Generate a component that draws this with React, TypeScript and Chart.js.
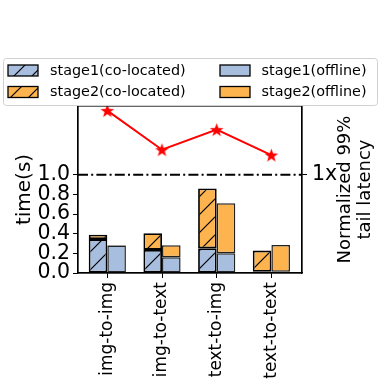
import React, { useEffect, useRef } from "react";
import { Chart, registerables } from "chart.js";
Chart.register(...registerables);

const categories = ["img-to-img", "img-to-text", "text-to-img", "text-to-text"];
const stage1Colocated = [0.345, 0.235, 0.252, 0.012];
const stage2Colocated = [0.045, 0.17, 0.608, 0.216];
const stage1Offline = [0.28, 0.16, 0.2, 0.012];
const stage2Offline = [0.006, 0.123, 0.51, 0.273];
const tailLatency = [1.653, 1.255, 1.459, 1.2];
const leftTicks = [0, 0.2, 0.4, 0.6, 0.8, 1.0];
const rightTicks = [1];
const legendLabels = ["stage1(co-located)", "stage2(co-located)", "stage1(offline)", "stage2(offline)"];

const BLUE = "#a7bede";
const ORANGE = "#fdb44f";
const FONT = "DejaVu Sans";

function hatch(color: string) {
  const s = 18;
  const c = document.createElement("canvas");
  c.width = s;
  c.height = s;
  const g = c.getContext("2d")!;
  g.fillStyle = color;
  g.fillRect(0, 0, s, s);
  g.strokeStyle = "#000";
  g.lineWidth = 1.2;
  g.beginPath();
  g.moveTo(-2, s + 2);
  g.lineTo(s + 2, -2);
  g.moveTo(-2, 2);
  g.lineTo(2, -2);
  g.moveTo(s - 2, s + 2);
  g.lineTo(s + 2, s - 2);
  g.stroke();
  return g.createPattern(c, "repeat")!;
}

function starImage() {
  const s = 15;
  const c = document.createElement("canvas");
  c.width = s;
  c.height = s;
  const g = c.getContext("2d")!;
  const cx = s / 2, cy = s / 2 + 0.6, R = 7.2, r = 2.9;
  g.beginPath();
  for (let i = 0; i < 10; i++) {
    const ang = -Math.PI / 2 + (i * Math.PI) / 5;
    const rad = i % 2 === 0 ? R : r;
    const x = cx + rad * Math.cos(ang);
    const y = cy + rad * Math.sin(ang);
    if (i === 0) g.moveTo(x, y);
    else g.lineTo(x, y);
  }
  g.closePath();
  g.fillStyle = "#ff0000";
  g.fill();
  return c;
}

const toXY = (arr: number[]) => arr.map((v, i) => ({ x: i, y: v }));

export default function App() {
  const ref = useRef<HTMLCanvasElement>(null);
  useEffect(() => {
    const canvas = ref.current!;
    const fills = [hatch(BLUE), hatch(ORANGE), BLUE, ORANGE];
    const overlay = {
      id: "overlay",
      afterDatasetsDraw(chart: any) {
        const ctx = chart.ctx;
        const a = chart.chartArea;
        const y1 = chart.scales.y.getPixelForValue(1);
        ctx.save();
        ctx.strokeStyle = "#000";
        ctx.lineWidth = 2;
        ctx.setLineDash([10, 3.2, 2, 3.2]);
        ctx.beginPath();
        ctx.moveTo(a.left, y1);
        ctx.lineTo(a.right, y1);
        ctx.stroke();
        ctx.restore();
      },
      afterDraw(chart: any) {
        const ctx = chart.ctx;
        const a = chart.chartArea;
        ctx.save();
        ctx.strokeStyle = "#000";
        ctx.lineWidth = 1.2;
        ctx.strokeRect(a.left, a.top, a.right - a.left, a.bottom - a.top);
        const cy = (a.top + a.bottom) / 2;
        ctx.fillStyle = "#000";
        ctx.textAlign = "center";
        ctx.textBaseline = "middle";
        // left title
        ctx.save();
        ctx.translate(25, cy);
        ctx.rotate(-Math.PI / 2);
        ctx.font = `20px "${FONT}"`;
        ctx.fillText("time(s)", 0, 0);
        ctx.restore();
        // right title
        ctx.save();
        ctx.translate(355, cy);
        ctx.rotate(-Math.PI / 2);
        ctx.font = `18px "${FONT}"`;
        ctx.fillText("Normalized 99%", 0, -10);
        ctx.fillText("tail latency", 0, 10);
        ctx.restore();
        // legend
        const bx = 3, by = 58, bw = 374, bh = 47;
        ctx.fillStyle = "rgba(255,255,255,0.85)";
        ctx.strokeStyle = "#d0d0d0";
        ctx.lineWidth = 1;
        ctx.beginPath();
        (ctx as any).roundRect(bx + 0.5, by + 0.5, bw, bh, 3);
        ctx.fill();
        ctx.stroke();
        const items = [
          { x: 8, y: 70.5, tx: 50, fill: fills[0], label: legendLabels[0] },
          { x: 8, y: 92, tx: 50, fill: fills[1], label: legendLabels[1] },
          { x: 220, y: 70.5, tx: 261.5, fill: fills[2], label: legendLabels[2] },
          { x: 220, y: 92, tx: 261.5, fill: fills[3], label: legendLabels[3] },
        ];
        ctx.font = `14.4px "${FONT}"`;
        ctx.textAlign = "left";
        for (const it of items) {
          ctx.fillStyle = it.fill as any;
          ctx.fillRect(it.x, it.y - 5.5, 30, 11);
          ctx.strokeStyle = "#000";
          ctx.lineWidth = 1.3;
          ctx.strokeRect(it.x, it.y - 5.5, 30, 11);
          ctx.fillStyle = "#000";
          ctx.fillText(it.label, it.tx, it.y + 0.5);
        }
        ctx.restore();
      },
    };

    const barCommon = {
      type: "bar" as const,
      borderSkipped: false,
      barPercentage: 1,
      categoryPercentage: 0.68,
      yAxisID: "y",
      order: 2,
    };

    const chart = new Chart(canvas, {
      type: "bar",
      data: {
        datasets: [
          { ...barCommon, label: legendLabels[0], data: toXY(stage1Colocated), stack: "co", backgroundColor: fills[0], borderColor: "#000", borderWidth: 1.8 },
          { ...barCommon, label: legendLabels[1], data: toXY(stage2Colocated), stack: "co", backgroundColor: fills[1], borderColor: "#000", borderWidth: 1.8 },
          { ...barCommon, label: legendLabels[2], data: toXY(stage1Offline), stack: "off", backgroundColor: fills[2], borderColor: "#222", borderWidth: 1.5 },
          { ...barCommon, label: legendLabels[3], data: toXY(stage2Offline), stack: "off", backgroundColor: fills[3], borderColor: "#222", borderWidth: 1.5 },
          {
            type: "line",
            label: "tail",
            data: toXY(tailLatency),
            yAxisID: "y2",
            borderColor: "#ff0000",
            borderWidth: 2,
            pointStyle: starImage() as any,
            pointRadius: 7,
            order: 0,
          } as any,
        ],
      } as any,
      options: {
        responsive: false,
        animation: false,
        devicePixelRatio: 1,
        layout: { padding: { top: 106, left: 0, right: 0, bottom: 0 } },
        plugins: { legend: { display: false }, tooltip: { enabled: false } },
        scales: {
          x: {
            type: "linear",
            min: -0.536,
            max: 3.56,
            offset: false,
            afterBuildTicks: (s: any) => {
              s.ticks = categories.map((_, i) => ({ value: i }));
            },
            afterFit: (s: any) => {
              s.height = 117;
            },
            ticks: {
              callback: (v: any) => categories[Math.round(Number(v))],
              minRotation: 90,
              maxRotation: 90,
              autoSkip: false,
              padding: 4,
              color: "#000",
              font: { family: FONT, size: 17 },
            },
            grid: { drawOnChartArea: false, offset: false, tickLength: 5, color: "#000" },
            border: { display: true, color: "#000", width: 1.2 },
          },
          y: {
            type: "linear",
            position: "left",
            stacked: true,
            min: 0,
            max: 1.7,
            afterBuildTicks: (s: any) => {
              s.ticks = leftTicks.map((v) => ({ value: v }));
            },
            afterFit: (s: any) => {
              s.width = 78;
            },
            ticks: {
              callback: (v: any) => Number(v).toFixed(1),
              autoSkip: false,
              padding: 3,
              color: "#000",
              font: { family: FONT, size: 20.5 },
            },
            grid: { drawOnChartArea: false, tickLength: 5, color: "#000" },
            border: { display: true, color: "#000", width: 1.2 },
          },
          y2: {
            type: "linear",
            position: "right",
            min: 0,
            max: 1.7,
            afterBuildTicks: (s: any) => {
              s.ticks = rightTicks.map((v) => ({ value: v }));
            },
            afterFit: (s: any) => {
              s.width = 88;
            },
            ticks: {
              callback: (v: any) => `${v}x`,
              autoSkip: false,
              padding: 5,
              color: "#000",
              font: { family: FONT, size: 20.5 },
            },
            grid: { drawOnChartArea: false, tickLength: 5, color: "#000" },
            border: { display: true, color: "#000", width: 1.2 },
          },
        },
      } as any,
      plugins: [overlay],
    });
    return () => chart.destroy();
  }, []);
  return (
    <div style={{ position: "absolute", left: 0, top: 0, width: 390, height: 390, background: "#fff" }}>
      <canvas ref={ref} width={390} height={390} style={{ width: 390, height: 390 }} />
    </div>
  );
}
